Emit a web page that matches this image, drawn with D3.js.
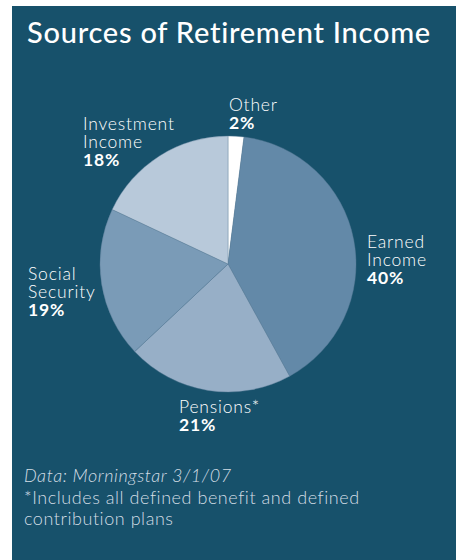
<!DOCTYPE html>
<html><head><meta charset="utf-8">
<script src="https://cdn.jsdelivr.net/npm/d3@7"></script>
<style>html,body{margin:0;padding:0;background:#fff;}svg{display:block;}</style>
</head><body>
<script>
const categories = ["Other", "Earned Income", "Pensions*", "Social Security", "Investment Income"];
const values = [2, 40, 21, 19, 18];
const labelLines = [["Other"], ["Earned", "Income"], ["Pensions*"], ["Social", "Security"], ["Investment", "Income"]];
const colors = ["#ffffff", "#6389a8", "#97afc7", "#7a9bb7", "#b8c9da"];
const title = "Sources of Retirement Income";
const notes = ["Data: Morningstar 3/1/07", "*Includes all defined benefit and defined", "contribution plans"];

const W = 456, H = 560;
const svg = d3.select("body").append("svg").attr("width", W).attr("height", H);
svg.append("rect").attr("x", 12).attr("y", 6).attr("width", W - 12).attr("height", H - 6).attr("fill", "#17516b");

const font = "Lato, 'Open Sans', sans-serif";
svg.append("text").attr("x", 27).attr("y", 43).attr("fill", "#fff")
  .attr("font-family", font).attr("font-size", 29).attr("font-weight", 500)
  .attr("letter-spacing", 0.75)
  .text(title);

const cx = 228, cy = 264, r = 128;
const pie = d3.pie().sort(null).value(d => d)(values);
const arc = d3.arc().innerRadius(0).outerRadius(r);
const g = svg.append("g").attr("transform", `translate(${cx},${cy})`);
g.selectAll("path").data(pie).join("path")
  .attr("d", arc).attr("fill", (d, i) => colors[i])
  .attr("stroke", "#5d7f99").attr("stroke-width", 0.4);

const labelPos = [[229, 111], [367, 248], [179, 413], [28, 280], [83, 130]];
const lh = 18;
labelLines.forEach((lines, i) => {
  const [x, y] = labelPos[i];
  const t = svg.append("text").attr("font-family", font).attr("font-size", 17.5)
    .attr("letter-spacing", 0.8).attr("fill", "#fff");
  lines.forEach((ln, j) => {
    t.append("tspan").attr("x", x).attr("y", y + j * lh).attr("font-weight", 300).text(ln);
  });
  t.append("tspan").attr("x", x).attr("y", y + lines.length * lh).attr("font-weight", 700).text(values[i] + "%");
});

notes.forEach((n, i) => {
  svg.append("text").attr("x", 24).attr("y", [482, 503.5, 525][i])
    .attr("font-family", font).attr("font-size", 18).attr("font-weight", 300)
    .attr("letter-spacing", 0.55)
    .attr("font-style", i === 0 ? "italic" : "normal")
    .attr("fill", "#d3dde5").text(n);
});
</script>
</body></html>
